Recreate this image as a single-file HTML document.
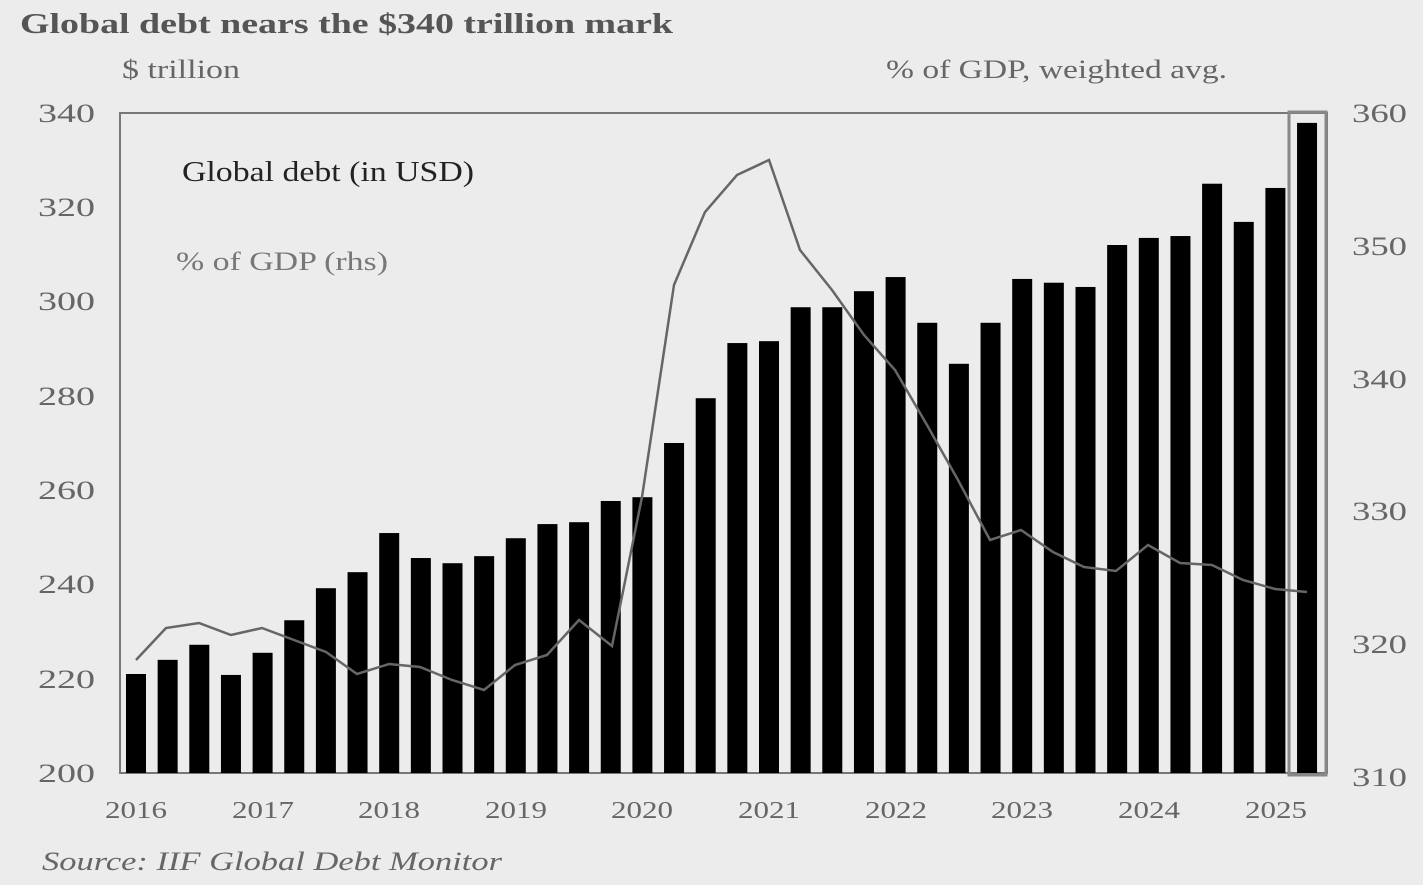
<!DOCTYPE html>
<html><head><meta charset="utf-8"><style>
html,body{margin:0;padding:0;background:#ececec;}
svg{display:block;}
text{font-family:"Liberation Serif",serif;}
</style></head><body>
<svg width="1423" height="885" viewBox="0 0 1423 885">
<rect width="1423" height="885" fill="#ececec"/>
<text x="20" y="33" font-size="28" font-weight="bold" fill="#555" textLength="653" lengthAdjust="spacingAndGlyphs">Global debt nears the $340 trillion mark</text>
<text x="122" y="78" font-size="26" fill="#666" textLength="118" lengthAdjust="spacingAndGlyphs">$ trillion</text>
<text x="886" y="78" font-size="26" fill="#666" textLength="341" lengthAdjust="spacingAndGlyphs">% of GDP, weighted avg.</text>
<rect x="120" y="113" width="1207" height="660" fill="none" stroke="#777" stroke-width="2"/>
<g font-size="26" fill="#666" text-anchor="end">
<text x="95" y="122" textLength="57" lengthAdjust="spacingAndGlyphs">340</text><text x="95" y="216" textLength="57" lengthAdjust="spacingAndGlyphs">320</text><text x="95" y="310" textLength="57" lengthAdjust="spacingAndGlyphs">300</text>
<text x="95" y="405" textLength="57" lengthAdjust="spacingAndGlyphs">280</text><text x="95" y="499" textLength="57" lengthAdjust="spacingAndGlyphs">260</text><text x="95" y="593" textLength="57" lengthAdjust="spacingAndGlyphs">240</text>
<text x="95" y="688" textLength="57" lengthAdjust="spacingAndGlyphs">220</text><text x="95" y="782" textLength="57" lengthAdjust="spacingAndGlyphs">200</text>
</g>
<g font-size="26" fill="#666">
<text x="1352" y="122" textLength="55" lengthAdjust="spacingAndGlyphs">360</text><text x="1352" y="255" textLength="55" lengthAdjust="spacingAndGlyphs">350</text><text x="1352" y="388" textLength="55" lengthAdjust="spacingAndGlyphs">340</text>
<text x="1352" y="520" textLength="55" lengthAdjust="spacingAndGlyphs">330</text><text x="1352" y="653" textLength="55" lengthAdjust="spacingAndGlyphs">320</text><text x="1352" y="786" textLength="55" lengthAdjust="spacingAndGlyphs">310</text>
</g>
<g font-size="24" fill="#666" text-anchor="middle">
<text x="136" y="818" textLength="62" lengthAdjust="spacingAndGlyphs">2016</text><text x="263" y="818" textLength="62" lengthAdjust="spacingAndGlyphs">2017</text><text x="389" y="818" textLength="62" lengthAdjust="spacingAndGlyphs">2018</text>
<text x="516" y="818" textLength="62" lengthAdjust="spacingAndGlyphs">2019</text><text x="642" y="818" textLength="62" lengthAdjust="spacingAndGlyphs">2020</text><text x="769" y="818" textLength="62" lengthAdjust="spacingAndGlyphs">2021</text>
<text x="896" y="818" textLength="62" lengthAdjust="spacingAndGlyphs">2022</text><text x="1022" y="818" textLength="62" lengthAdjust="spacingAndGlyphs">2023</text><text x="1149" y="818" textLength="62" lengthAdjust="spacingAndGlyphs">2024</text>
<text x="1276" y="818" textLength="62" lengthAdjust="spacingAndGlyphs">2025</text>
</g>
<g id="bars" fill="#000"></g>
<rect x="1289" y="112" width="37" height="663" fill="none" stroke="#888" stroke-width="3"/>
<polyline fill="none" stroke="#666" stroke-width="2.5" points="136,660 166,628 199,623 231,635 262,628 294,640 326,652 357,674 389,664 420,667 452,680 484,690 515,665 547,655 579,620 612,646 642,497 674,285 705,212 737,175 769,160 800,250 832,290 864,335 895,370 927,425 958,480 990,540 1021,530 1053,552 1084,567 1116,571 1148,545 1180,563 1212,565 1243,580 1275,589 1307,592"/>
<text x="182" y="181" font-size="28" fill="#222" textLength="292" lengthAdjust="spacingAndGlyphs">Global debt (in USD)</text>
<text x="176" y="270" font-size="26" fill="#777" textLength="212" lengthAdjust="spacingAndGlyphs">% of GDP (rhs)</text>
<text x="42" y="870" font-size="26" font-style="italic" fill="#666" textLength="460" lengthAdjust="spacingAndGlyphs">Source: IIF Global Debt Monitor</text>
</svg>
<script>
var v=[221,224,227.2,220.8,225.5,232.4,239.2,242.6,250.9,245.6,244.5,246,249.8,252.8,253.2,257.7,258.5,270,279.5,291.2,291.6,298.8,298.8,302.2,305.2,295.5,286.8,295.5,304.8,304,303.1,312,313.5,313.9,325,316.9,324.1,337.9];
var g=document.getElementById('bars'),s='';
v.forEach(function(d,i){var cx=136+i*31.65,y=113+(340-d)*660/140;
s+='<rect x="'+(cx-10)+'" y="'+y+'" width="20" height="'+(773-y)+'"/>';});
g.innerHTML=s;
</script>
</body></html>
